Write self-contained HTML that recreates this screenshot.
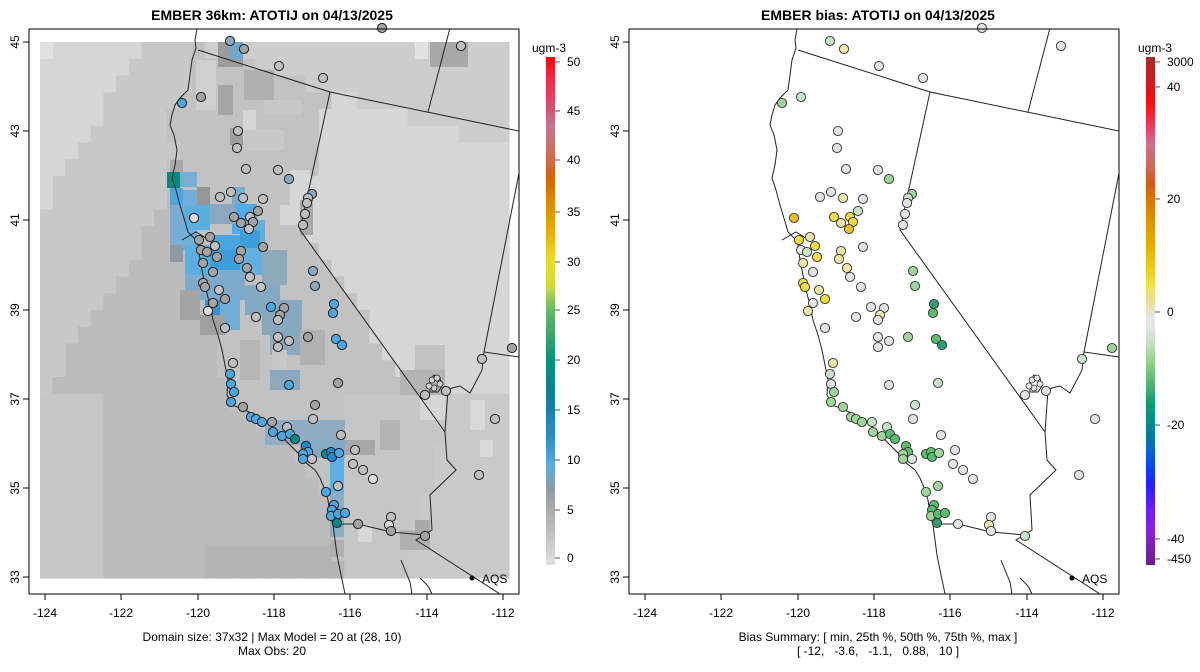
<!DOCTYPE html>
<html><head><meta charset="utf-8">
<style>
html,body{margin:0;padding:0;background:#fff;}
body{width:1200px;height:672px;overflow:hidden;position:relative;font-family:"Liberation Sans",sans-serif;}
svg{position:absolute;left:0;top:0;}
text{font-family:"Liberation Sans",sans-serif;fill:#000;}
</style></head>
<body>
<svg id="s" width="1200" height="672" viewBox="0 0 1200 672" xmlns="http://www.w3.org/2000/svg">
<defs>
<linearGradient id="cb1" x1="0" y1="1" x2="0" y2="0">
<stop offset="0" stop-color="#e2e2e2"/><stop offset="0.02" stop-color="#d6d6d6"/>
<stop offset="0.115" stop-color="#a8a8a8"/><stop offset="0.15" stop-color="#8f9aa4"/>
<stop offset="0.19" stop-color="#58aee2"/><stop offset="0.25" stop-color="#2a90d0"/>
<stop offset="0.33" stop-color="#0a7ea0"/><stop offset="0.40" stop-color="#009080"/>
<stop offset="0.45" stop-color="#30a86a"/><stop offset="0.505" stop-color="#66c05c"/>
<stop offset="0.55" stop-color="#d0dc40"/><stop offset="0.60" stop-color="#f0d830"/>
<stop offset="0.65" stop-color="#eab010"/><stop offset="0.70" stop-color="#e48e00"/>
<stop offset="0.76" stop-color="#d86400"/><stop offset="0.81" stop-color="#d46a50"/>
<stop offset="0.86" stop-color="#cc7090"/><stop offset="0.91" stop-color="#dc4a6a"/>
<stop offset="0.96" stop-color="#ee2a40"/><stop offset="1" stop-color="#ff0000"/>
</linearGradient>
<linearGradient id="cb2" x1="0" y1="0" x2="0" y2="1">
<stop offset="0" stop-color="#a52a2a"/><stop offset="0.05" stop-color="#c81e1e"/>
<stop offset="0.09" stop-color="#ff0a0a"/><stop offset="0.13" stop-color="#e83a58"/>
<stop offset="0.17" stop-color="#d46a90"/><stop offset="0.21" stop-color="#d06a60"/>
<stop offset="0.25" stop-color="#d85a10"/><stop offset="0.30" stop-color="#e28000"/>
<stop offset="0.36" stop-color="#e8a400"/><stop offset="0.41" stop-color="#eec424"/>
<stop offset="0.45" stop-color="#f0e050"/><stop offset="0.49" stop-color="#e8e2a8"/>
<stop offset="0.51" stop-color="#e6e6e6"/><stop offset="0.53" stop-color="#e6e6e6"/>
<stop offset="0.56" stop-color="#c8e2c8"/><stop offset="0.60" stop-color="#90d488"/>
<stop offset="0.64" stop-color="#50b870"/><stop offset="0.68" stop-color="#10a070"/>
<stop offset="0.72" stop-color="#008a8a"/><stop offset="0.76" stop-color="#0070b8"/>
<stop offset="0.80" stop-color="#0050e8"/><stop offset="0.84" stop-color="#2020ff"/>
<stop offset="0.89" stop-color="#7020f0"/><stop offset="0.93" stop-color="#9020d8"/>
<stop offset="1" stop-color="#6a2090"/>
</linearGradient>
<clipPath id="clipL"><rect x="29" y="29" width="490" height="565"/></clipPath>
</defs>
<g id="gridL" clip-path="url(#clipL)"></g>
<g id="linesL" clip-path="url(#clipL)"></g>
<g transform="translate(600,0)"><g id="linesR" clip-path="url(#clipL)"></g></g>
<g id="ptsL"></g>
<g id="ptsR" transform="translate(600,0)"></g>
<g id="frames" fill="none" stroke="#000" stroke-width="1"></g>

<text x="272" y="20" font-size="14" font-weight="bold" text-anchor="middle">EMBER 36km: ATOTIJ on 04/13/2025</text>
<text x="878" y="20" font-size="14" font-weight="bold" text-anchor="middle">EMBER bias: ATOTIJ on 04/13/2025</text>

<g font-size="12" text-anchor="middle">
<text x="45" y="617">-124</text><text x="121" y="617">-122</text><text x="198" y="617">-120</text>
<text x="274" y="617">-118</text><text x="350" y="617">-116</text><text x="427" y="617">-114</text><text x="503" y="617">-112</text>
<text x="645" y="617">-124</text><text x="721" y="617">-122</text><text x="798" y="617">-120</text>
<text x="874" y="617">-118</text><text x="950" y="617">-116</text><text x="1027" y="617">-114</text><text x="1103" y="617">-112</text>
</g>
<g font-size="12" text-anchor="middle">
<text transform="translate(19,42) rotate(-90)">45</text><text transform="translate(19,131) rotate(-90)">43</text>
<text transform="translate(19,220) rotate(-90)">41</text><text transform="translate(19,310) rotate(-90)">39</text>
<text transform="translate(19,399) rotate(-90)">37</text><text transform="translate(19,488) rotate(-90)">35</text>
<text transform="translate(19,577) rotate(-90)">33</text>
<text transform="translate(619,42) rotate(-90)">45</text><text transform="translate(619,131) rotate(-90)">43</text>
<text transform="translate(619,220) rotate(-90)">41</text><text transform="translate(619,310) rotate(-90)">39</text>
<text transform="translate(619,399) rotate(-90)">37</text><text transform="translate(619,488) rotate(-90)">35</text>
<text transform="translate(619,577) rotate(-90)">33</text>
</g>

<g font-size="12" text-anchor="middle">
<text x="272" y="641">Domain size: 37x32 | Max Model = 20 at (28, 10)</text>
<text x="272" y="655">Max Obs: 20</text>
<text x="878" y="641">Bias Summary: [ min, 25th %, 50th %, 75th %, max ]</text>
<text x="878" y="655" xml:space="preserve">[ -12,   -3.6,   -1.1,   0.88,   10 ]</text>
</g>

<circle cx="472" cy="578" r="2.5" fill="#000"/><text x="482" y="583" font-size="12">AQS</text>
<circle cx="1072" cy="578" r="2.5" fill="#000"/><text x="1082" y="583" font-size="12">AQS</text>

<text x="549" y="52" font-size="12" text-anchor="middle">ugm-3</text>
<rect x="546" y="57" width="9" height="508" fill="url(#cb1)"/>
<g font-size="12">
<text x="567" y="66">50</text><text x="567" y="115">45</text><text x="567" y="164">40</text>
<text x="567" y="216">35</text><text x="567" y="266">30</text><text x="567" y="314">25</text>
<text x="567" y="364">20</text><text x="567" y="414">15</text><text x="567" y="464">10</text>
<text x="567" y="514">5</text><text x="567" y="562">0</text>
</g>
<g stroke="#555" stroke-width="1">
<line x1="555" y1="62" x2="560" y2="62"/><line x1="555" y1="111" x2="560" y2="111"/><line x1="555" y1="160" x2="560" y2="160"/>
<line x1="555" y1="212" x2="560" y2="212"/><line x1="555" y1="262" x2="560" y2="262"/><line x1="555" y1="310" x2="560" y2="310"/>
<line x1="555" y1="360" x2="560" y2="360"/><line x1="555" y1="410" x2="560" y2="410"/><line x1="555" y1="460" x2="560" y2="460"/>
<line x1="555" y1="510" x2="560" y2="510"/><line x1="555" y1="558" x2="560" y2="558"/>
</g>
<text x="1155" y="52" font-size="12" text-anchor="middle">ugm-3</text>
<rect x="1146" y="57" width="9" height="508" fill="url(#cb2)"/>
<g font-size="12">
<text x="1167" y="66">3000</text><text x="1167" y="91">40</text><text x="1167" y="203">20</text>
<text x="1167" y="316">0</text><text x="1167" y="429">-20</text><text x="1167" y="543">-40</text><text x="1167" y="563">-450</text>
</g>
<g stroke="#555" stroke-width="1">
<line x1="1155" y1="62" x2="1160" y2="62"/><line x1="1155" y1="87" x2="1160" y2="87"/><line x1="1155" y1="199" x2="1160" y2="199"/>
<line x1="1155" y1="312" x2="1160" y2="312"/><line x1="1155" y1="425" x2="1160" y2="425"/><line x1="1155" y1="539" x2="1160" y2="539"/><line x1="1155" y1="559" x2="1160" y2="559"/>
</g>
</svg>
<script>
(function(){
var NS="http://www.w3.org/2000/svg";
function el(p,t,a){var e=document.createElementNS(NS,t);for(var k in a)e.setAttribute(k,a[k]);p.appendChild(e);return e;}
var coast=[[197,29],[195,40],[196,48],[192,60],[190,75],[188,90],[180,98],[175,105],[172,115],[170,125],[174,135],[177,150],[175,165],[172,178],[176,190],[180,205],[183,215],[186,225],[188,232],[194,238],[198,245],[200,260],[203,275],[206,290],[210,305],[213,320],[218,335],[222,350],[225,365],[228,380],[227,395],[232,405],[245,410],[255,415],[265,420],[275,430],[290,445],[300,455],[305,462],[315,470],[320,478],[325,490],[328,500],[330,515],[333,525],[335,540],[337,555],[340,570],[345,594]];
function coastX(y){for(var i=0;i<coast.length-1;i++){var a=coast[i],b=coast[i+1];if(y>=a[1]&&y<=b[1]){return a[0]+(b[0]-a[0])*(y-a[1])/(b[1]-a[1]);}}return 345;}
function eastX(y){
 if(y<92) return 330; if(y<230) return 330-(y-92)*0.217; if(y<432) return 300+(y-230)*0.72; return 445-(y-432)*0.3;}
function orLine(x){return 50+(x-198)*0.32;}
var g=document.getElementById("gridL");
var x0=40,y0=42,nx=37,ny=32,w=(509-40)/nx,h=(578-42)/ny;
for(var i=0;i<nx;i++)for(var j=0;j<ny;j++){
 var cx=x0+(i+0.5)*w,cy=y0+(j+0.5)*h,c;
 var cxv=coastX(cy);
 if(cx<cxv-2){
   if(cx<143-0.6*(cy-42)) c="#d6d6d6";
   else if(cx<157-0.65*(cy-220)) c="#c8c8c8";
   else if(cy>400&&cx<100) c="#c6c6c6";
   else c="#bcbcbc";
   if(cy>540&&cx>200) c="#b4b4b4";
 } else {
   if(cy<orLine(cx)) c="#cdcdcd";
   else if(cx>eastX(cy)) { c=(cy>395&&cx>400)?"#c9c9c9":"#d6d6d6"; }
   else { c=(cy>400&&cx>350)?"#c6c6c6":"#c2c2c2"; }
 }
 el(g,"rect",{x:(x0+i*w).toFixed(2),y:(y0+j*h).toFixed(2),width:(w+0.6).toFixed(2),height:(h+0.6).toFixed(2),fill:c});
}
var R=[
[40,42,13,17,"#e2e2e2"],[218,42,25,25,"#9c9c9c"],[230,42,13,17,"#6fa8cc"],[430,42,38,25,"#a8a8a8"],[415,42,13,17,"#e2e2e2"],[196,60,20,50,"#cfcfcf"],[244,70,30,30,"#b0b0b0"],
[218,85,15,30,"#a6a6a6"],[264,100,38,15,"#c8c8c8"],[230,128,13,17,"#a0a0a0"],[243,110,13,30,"#d6d6d6"],[170,160,13,17,"#a8a8a8"],
[244,130,40,20,"#c8c8c8"],[290,170,20,40,"#d6d6d6"],[280,205,20,20,"#d6d6d6"],[300,200,13,35,"#a8a8a8"],
[197,187,13,40,"#969696"],[232,187,13,17,"#7aaed0"],[232,204,25,30,"#55ace4"],[210,204,25,20,"#8ca8c0"],
[167,172,13,16,"#00897e"],[180,172,17,15,"#7aaed0"],[170,188,13,17,"#4aa6e0"],[170,205,15,40,"#78acd2"],
[183,190,14,60,"#70aed8"],[185,205,25,25,"#5aaee0"],[245,220,20,30,"#66aee0"],[170,245,13,17,"#8e9aa4"],
[185,245,25,30,"#5aaee0"],[210,235,30,20,"#4aa6e0"],[240,230,20,18,"#3c9fdc"],[210,250,35,20,"#3c9fdc"],
[240,250,22,25,"#66aee0"],[262,250,25,35,"#8ea8bc"],[185,275,25,25,"#80aacb"],[210,270,35,30,"#7eaacb"],
[205,300,15,20,"#3a8fd0"],[220,295,20,35,"#70aed8"],[245,285,35,30,"#84a9c4"],[200,315,25,20,"#a0a0a0"],
[262,300,40,35,"#88a8c0"],[270,335,30,20,"#8ca8bc"],[272,350,15,20,"#c8c8c8"],[270,370,30,20,"#8ca8bc"],
[300,330,25,35,"#b2b2b2"],[240,340,20,40,"#b6b6b6"],[180,290,20,30,"#a4a4a4"],
[265,420,80,25,"#90adc4"],[300,440,45,18,"#85aac6"],[330,455,14,37,"#5ab0e5"],[330,492,14,45,"#8aaec6"],
[345,440,30,15,"#a8a8a8"],[380,420,20,30,"#b4b4b4"],[415,345,30,30,"#c2c2c2"],[400,370,45,25,"#b4b4b4"],
[330,540,14,17,"#b0b0b0"],[400,530,30,20,"#b0b0b0"],[415,520,15,15,"#a8a8a8"],[358,525,14,17,"#d8d8d8"],
[470,400,15,30,"#d8d8d8"],[480,440,13,17,"#d8d8d8"],[420,395,25,25,"#d6d6d6"]
];
R.forEach(function(r){el(g,"rect",{x:r[0],y:r[1],width:r[2],height:r[3],fill:r[4]});});
var paths=[
coast.map(function(p,i){return (i?"L":"M")+p[0]+","+p[1];}).join(""),
"M198,50L330,92L519,131",
"M330,92L300,230L445,432",
"M519,173L484,352L519,357",
"M484,352L482,370L470,393L460,386L452,388L448,390L445,432L447,460L456,470L430,495L432,530L416,540L500,594",
"M337,524L358,524L391,532L425,535",
"M450,28L428,112",
"M401,560L405,570L410,582L412,594",
"M420,578L428,586L432,594",
"M182,240L196,232L206,238L214,234",
"M430,380L434,375L440,378L442,386L438,392L430,392Z"
];
["linesL","linesR"].forEach(function(id){var gg=document.getElementById(id);
paths.forEach(function(d){el(gg,"path",{d:d,fill:"none",stroke:"#222","stroke-width":"1"});});});
var fr=document.getElementById("frames");
[0,600].forEach(function(o){
 el(fr,"rect",{x:29+o,y:29,width:490,height:565});
 [45,121,198,274,350,427,503].forEach(function(x){el(fr,"line",{x1:x+o,y1:594,x2:x+o,y2:600});});
 [42,131,220,310,399,488,577].forEach(function(y){el(fr,"line",{x1:29+o,y1:y,x2:23+o,y2:y});});
});
var LC={G:"#a3a3a3",W:"#dadada",L:"#bfbfbf",B:"#4aa8e0",D:"#1e88d0",T:"#008a80",S:"#8aa8c0"};
var RC={z:"#e3e3e3",g1:"#c8e4c8",g2:"#9fd49b",g3:"#5cbc72",g4:"#2ea070",y1:"#ece6a8",y2:"#f0dc40",y3:"#ecc020"};
var P=[[230,41,"S","g1"],[244,49,"G","y1"],[279,66,"L","z"],[323,78,"L","z"],[382,28,"G","z"],[461,46,"L","z"],[182,103,"B","g2"],[201,97,"G","g1"],[238,131,"L","z"],[237,148,"L","z"],[246,169,"L","z"],[278,170,"L","z"],[289,179,"S","g2"],[312,194,"S","g2"],[308,198,"L","g1"],[307,203,"L","z"],[305,214,"L","z"],[303,225,"L","z"],[220,197,"L","z"],[231,192,"L","z"],[243,198,"L","y1"],[263,199,"L","z"],[258,211,"G","g1"],[234,217,"G","y2"],[241,223,"G","y1"],[250,217,"L","y2"],[253,222,"G","y2"],[249,229,"L","y3"],[194,218,"W","y3"],[199,240,"G","y2"],[210,237,"G","y1"],[215,246,"L","y2"],[201,250,"G","z"],[207,252,"G","g1"],[217,257,"G","y2"],[203,263,"G","y1"],[241,251,"G","y1"],[239,259,"G","y1"],[263,247,"G","z"],[213,272,"G","z"],[247,268,"G","y1"],[250,277,"L","z"],[203,283,"G","y2"],[205,287,"G","y2"],[261,287,"L","z"],[219,290,"L","y1"],[225,299,"G","y2"],[213,303,"G","z"],[208,311,"W","y1"],[271,307,"B","z"],[284,308,"G","z"],[280,315,"G","y1"],[278,320,"L","z"],[256,317,"L","z"],[225,328,"L","z"],[313,271,"S","g2"],[315,286,"S","g2"],[334,304,"B","g4"],[333,313,"B","g3"],[308,337,"G","g2"],[336,339,"B","g3"],[342,345,"B","g4"],[278,337,"L","z"],[289,341,"L","z"],[278,347,"L","z"],[233,363,"L","y1"],[230,374,"B","g1"],[231,384,"B","z"],[234,392,"B","g2"],[231,402,"B","g2"],[243,407,"G","g2"],[289,385,"B","z"],[338,383,"G","g1"],[315,405,"G","g1"],[313,419,"L","z"],[251,417,"B","g2"],[256,419,"B","g2"],[262,422,"B","g2"],[272,422,"G","g1"],[273,432,"B","g2"],[282,436,"B","g2"],[287,427,"L","g1"],[290,434,"B","g3"],[295,439,"T","g3"],[306,446,"D","g3"],[308,452,"B","g3"],[303,454,"B","g2"],[303,459,"B","g2"],[312,459,"L","z"],[326,454,"T","g3"],[331,452,"D","g3"],[332,457,"D","g3"],[339,453,"B","g2"],[341,435,"L","z"],[355,450,"L","z"],[353,464,"L","z"],[363,470,"L","z"],[373,479,"W","z"],[338,486,"L","g2"],[326,492,"B","g2"],[334,505,"B","g3"],[332,510,"B","g3"],[331,516,"B","g2"],[338,514,"B","g3"],[345,513,"B","g3"],[337,523,"T","g4"],[358,524,"G","z"],[391,517,"L","z"],[389,525,"W","y1"],[391,531,"G","z"],[425,536,"G","g1"],[482,359,"L","g1"],[512,348,"G","g2"],[425,395,"L","z"],[446,391,"L","z"],[495,419,"L","z"],[479,475,"L","z"]];
var gl=document.getElementById("ptsL"),gr=document.getElementById("ptsR");
P.forEach(function(p){
 el(gl,"circle",{cx:p[0],cy:p[1],r:4.6,fill:LC[p[2]],stroke:"#222","stroke-width":"1"});
 el(gr,"circle",{cx:p[0],cy:p[1],r:4.6,fill:RC[p[3]],stroke:"#333","stroke-width":"0.9"});
});
[[432,380],[437,378],[440,384],[434,388],[429,386]].forEach(function(p){
 el(gl,"circle",{cx:p[0],cy:p[1],r:3,fill:"#d0d0d0",stroke:"#222","stroke-width":"0.8"});
 el(gr,"circle",{cx:p[0],cy:p[1],r:3,fill:"#e3e3e3",stroke:"#333","stroke-width":"0.8"});
});
})();
</script>
</body></html>
